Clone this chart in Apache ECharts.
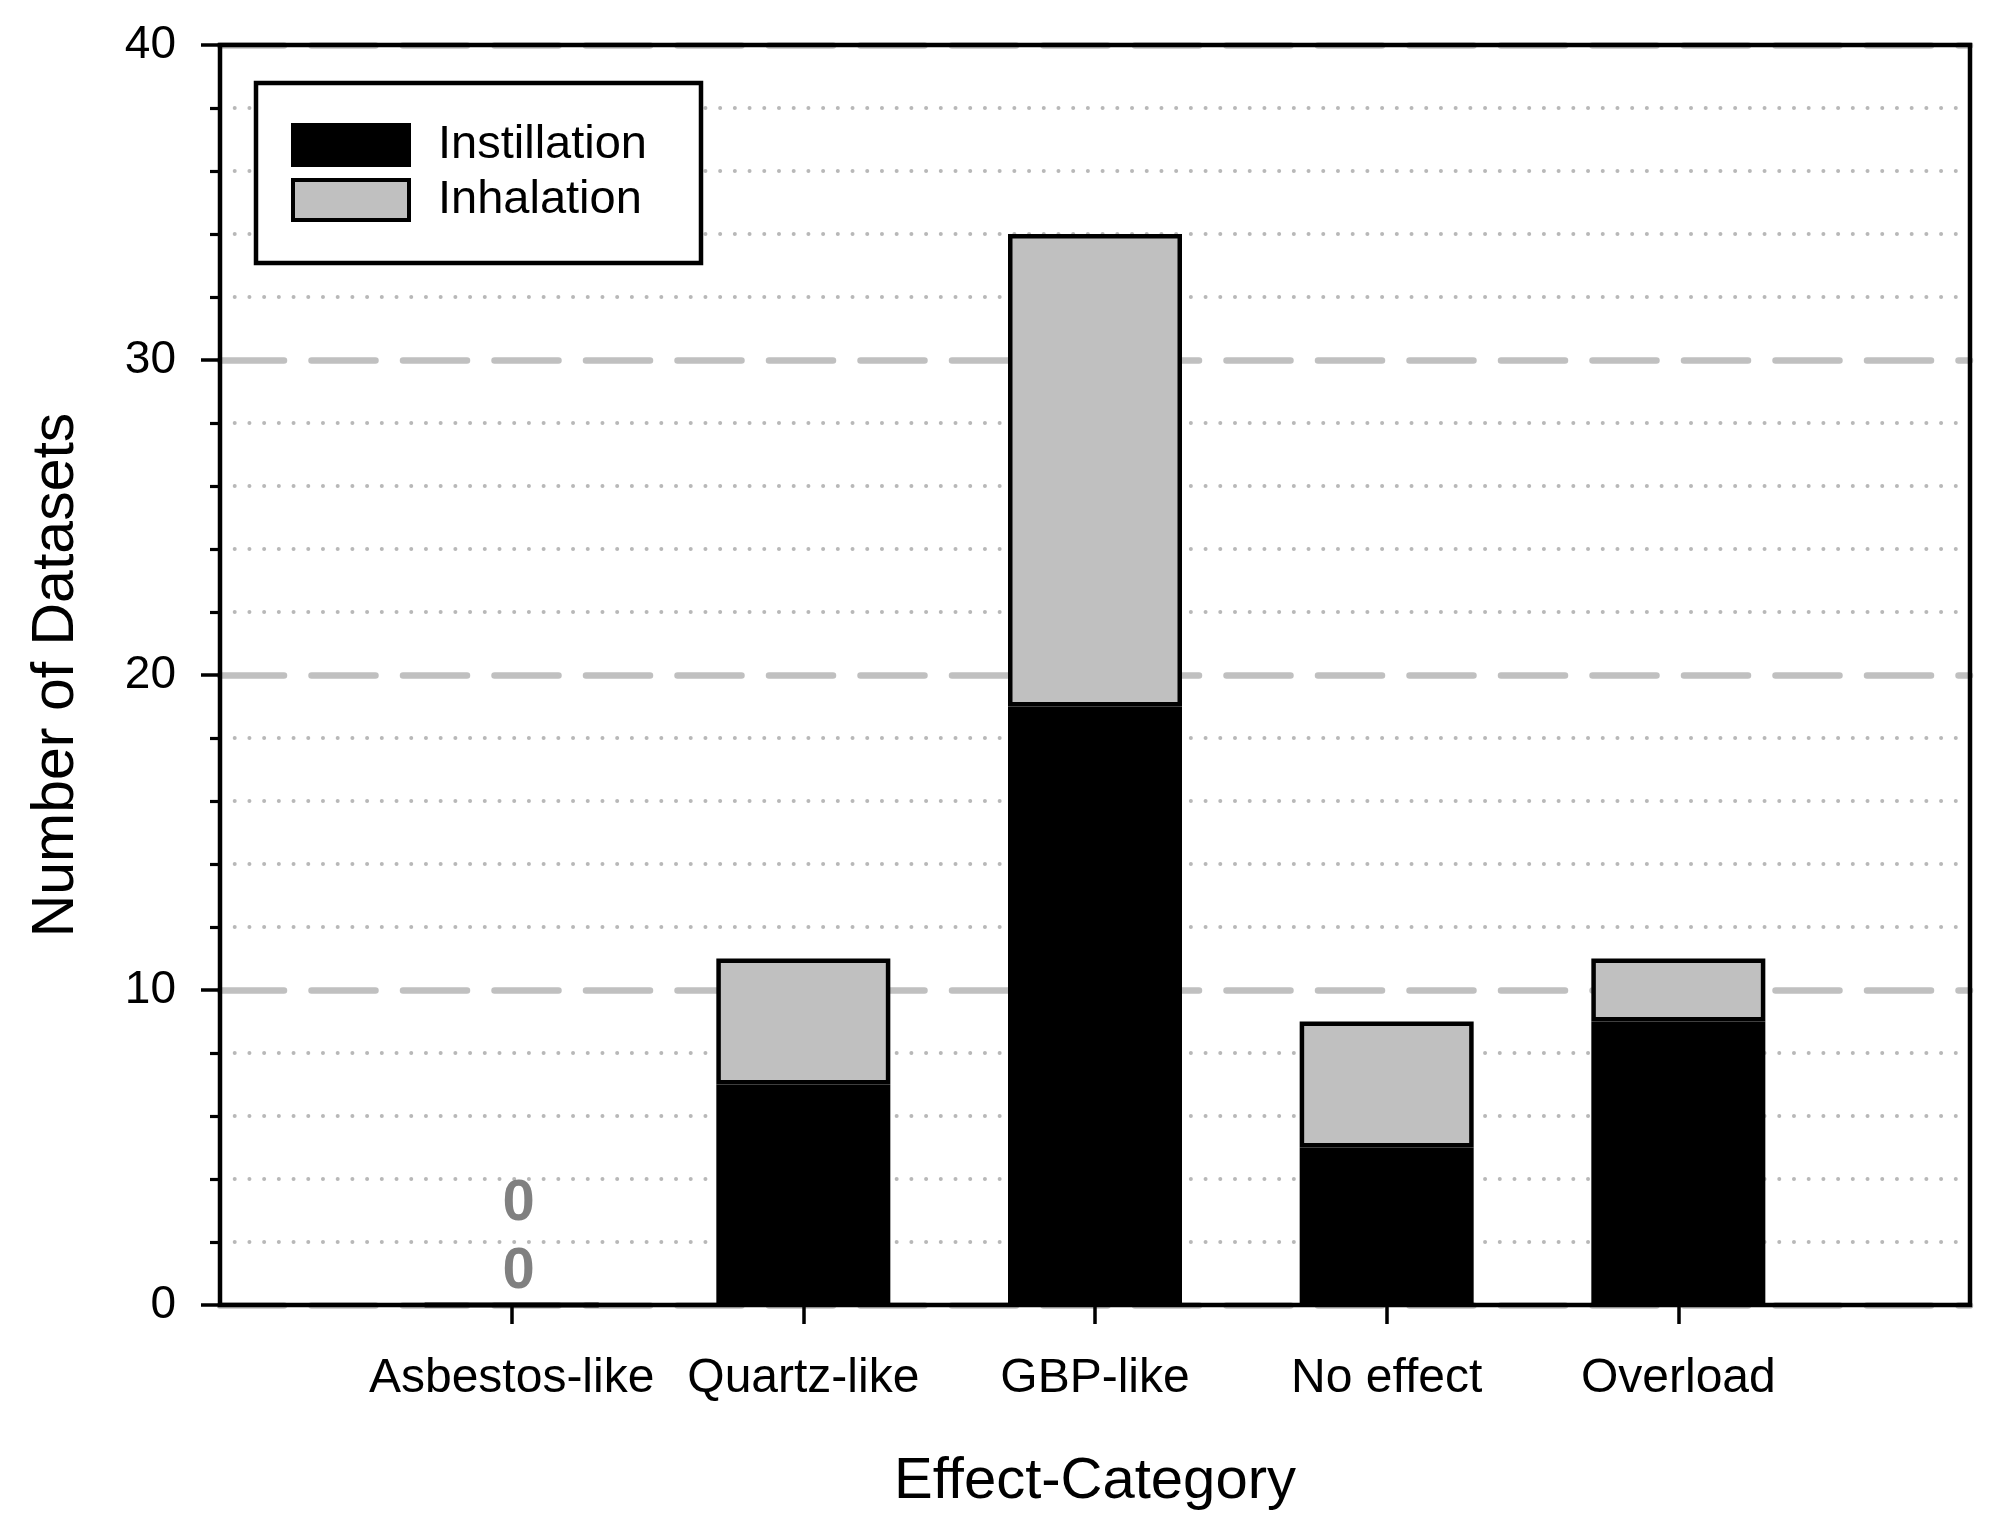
<!DOCTYPE html>
<html><head><meta charset="utf-8">
<script src="https://cdn.jsdelivr.net/npm/echarts@6/dist/echarts.min.js"></script>
<style>html,body{margin:0;padding:0;background:#fff}#c{width:2002px;height:1529px}</style>
</head><body><div id="c"></div>
<script>
const categories = ['Asbestos-like', 'Quartz-like', 'GBP-like', 'No effect', 'Overload'];
const instillation = [0, 7, 19, 5, 9];
const inhalation = [0, 4, 15, 4, 2];
const yTicks = [0, 10, 20, 30, 40];
const seriesNames = ['Instillation', 'Inhalation'];

const FONT = 'Liberation Sans, Arial, Helvetica, sans-serif';
const padCats = [''].concat(categories, ['']);
function pad(arr, dist) {
  return ['-'].concat(arr.map(v => v === 0 ? { value: v, label: { show: true, distance: dist } } : v), ['-']);
}
const zeroLabel = {
  show: false, position: 'top', formatter: '{c}', fontSize: 58, fontWeight: 'bold',
  color: '#808080', fontFamily: FONT, offset: [7, 0]
};

const chart = echarts.init(document.getElementById('c'), null, { renderer: 'canvas' });
chart.setOption({
  backgroundColor: '#fff',
  animation: false,
  grid: { left: 220, right: 32, top: 45, bottom: 224, show: true, borderColor: '#000', borderWidth: 4.5, z: 10 },
  legend: {
    orient: 'vertical', left: 256, top: 83,
    padding: [38.5, 54, 39.5, 35],
    itemWidth: 116, itemHeight: 40, itemGap: 8,
    backgroundColor: '#fff', borderColor: '#000', borderWidth: 4.5,
    icon: 'rect',
    textStyle: { fontSize: 47, fontFamily: FONT, color: '#000', padding: [0, 0, 0, 24] },
    data: [
      { name: seriesNames[0], itemStyle: { color: '#000', borderColor: '#000', borderWidth: 4 } },
      { name: seriesNames[1], itemStyle: { color: '#c0c0c0', borderColor: '#000', borderWidth: 4 } }
    ]
  },
  xAxis: {
    type: 'category', data: padCats, boundaryGap: false,
    axisLine: { show: false },
    axisTick: { show: true, interval: (i) => i > 0 && i < padCats.length - 1, length: 19, lineStyle: { color: '#000', width: 3.5 } },
    axisLabel: { interval: 0, margin: 50, fontSize: 48, color: '#000', fontFamily: FONT },
    splitLine: { show: false },
    name: 'Effect-Category', nameLocation: 'middle', nameGap: 148,
    nameTextStyle: { fontSize: 58, color: '#000', fontFamily: FONT }
  },
  yAxis: {
    type: 'value', min: yTicks[0], max: yTicks[yTicks.length - 1], interval: yTicks[1] - yTicks[0],
    axisLine: { show: false },
    axisTick: { show: true, length: 19, lineStyle: { color: '#000', width: 3.5 } },
    minorTick: { show: true, splitNumber: 5, length: 10, lineStyle: { color: '#000', width: 3.2 } },
    axisLabel: { margin: 44, fontSize: 46, color: '#000', fontFamily: FONT },
    splitLine: { show: true, lineStyle: { color: '#c0c0c0', width: 6.5, type: [64, 27.5], cap: 'round' } },
    minorSplitLine: { show: true, lineStyle: { color: '#b8b8b8', width: 4, type: [0.01, 14.7], cap: 'round' } },
    name: 'Number of Datasets', nameLocation: 'middle', nameGap: 134,
    nameTextStyle: { fontSize: 59, color: '#000', fontFamily: FONT }
  },
  series: [
    {
      name: seriesNames[0], type: 'bar', stack: 'total', barWidth: 174,
      itemStyle: { color: '#000', borderColor: '#000', borderWidth: 4.5 },
      label: zeroLabel,
      data: pad(instillation, 2)
    },
    {
      name: seriesNames[1], type: 'bar', stack: 'total', barWidth: 174,
      itemStyle: { color: '#c0c0c0', borderColor: '#000', borderWidth: 4.5 },
      label: zeroLabel,
      data: pad(inhalation, 70)
    }
  ]
});
</script></body></html>
